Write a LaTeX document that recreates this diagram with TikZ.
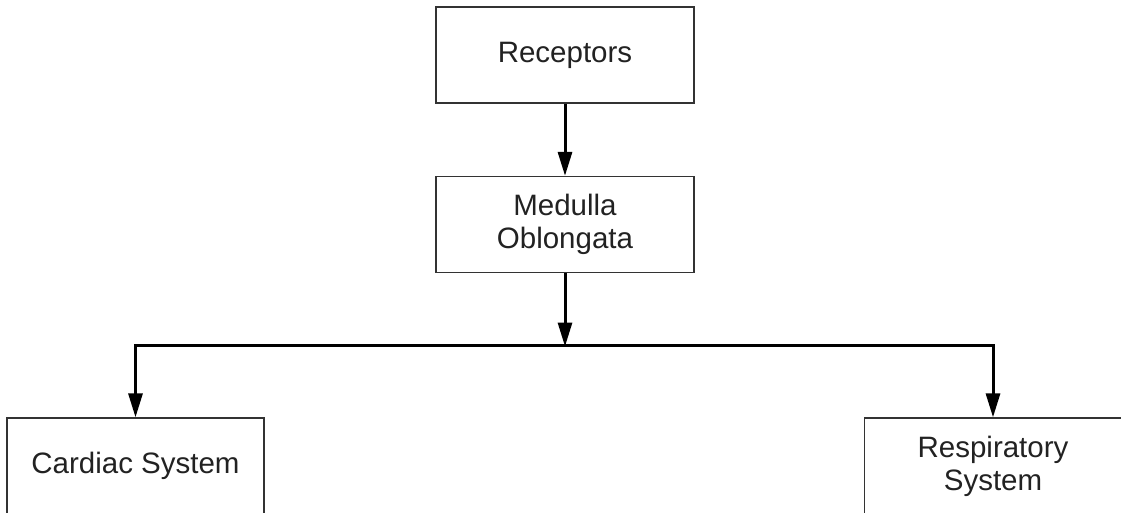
\documentclass[tikz,border=0pt]{standalone}
\usepackage{fontspec}
\setmainfont{Liberation Sans}
\usetikzlibrary{arrows.meta}
\definecolor{txt}{HTML}{222222}
\definecolor{edge}{HTML}{333333}
\tikzset{
  box/.style={draw=edge, line width=1.3pt, minimum width=258pt, minimum height=96pt,
    align=center, text=txt, font=\fontsize{29.5}{33}\selectfont, inner sep=0pt},
  flow/.style={line width=3pt, black, -{Triangle[length=24pt,width=14pt]}},
  link/.style={line width=3pt, black}
}
\begin{document}
\begin{tikzpicture}[x=1pt,y=-1pt]
\useasboundingbox (0,0) rectangle (1121,513);
\clip (0,0) rectangle (1121,513);
\node[box] (rec) at (565,55) {Receptors};
\node[box] (med) at (565,224.5) {Medulla\\Oblongata};
\node[box, minimum width=257pt] (card) at (135.5,466) {Cardiac System};
\node[box, minimum width=257pt] (resp) at (993,466) {Respiratory\\System};
\coordinate (j) at (565,345);
\draw[flow] (rec.south) -- (med.north);
\draw[flow] (med.south) -- ([yshift=-1.5pt]j);
\draw[link, line cap=rect] (card.north |- j) -- (resp.north |- j);
\draw[flow] (card.north |- j) -- (card.north);
\draw[flow] (resp.north |- j) -- (resp.north);
\end{tikzpicture}
\end{document}
